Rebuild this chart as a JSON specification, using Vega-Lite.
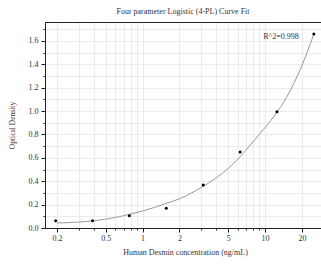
{
  "$schema": "https://vega.github.io/schema/vega-lite/v6.json",
  "autosize": "none",
  "width": 276,
  "height": 206,
  "padding": {"left": 45, "top": 22, "right": 0, "bottom": 38},
  "background": "white",
  "config": {
    "font": "Liberation Serif",
    "view": {"stroke": null},
    "axis": {"labelFont": "Liberation Serif", "titleFont": "Liberation Serif", "labelColor": "#333333", "titleColor": "#333333", "titleFontWeight": "normal", "tickColor": "#222222", "domainColor": "#222222", "gridColor": "#ebebeb", "gridWidth": 1}
  },
  "title": {"text": "Four parameter Logistic (4-PL) Curve Fit", "fontSize": 8, "font": "Liberation Serif", "fontWeight": "normal", "color": "#333333", "offset": 6},
  "datasets": {
    "curve": [
      {"conc": 0.2, "od": 0.043}, {"conc": 0.3, "od": 0.05}, {"conc": 0.4, "od": 0.062},
      {"conc": 0.6, "od": 0.09}, {"conc": 0.8, "od": 0.12}, {"conc": 1.0, "od": 0.145},
      {"conc": 1.5, "od": 0.205}, {"conc": 2, "od": 0.25}, {"conc": 3, "od": 0.345},
      {"conc": 4, "od": 0.43}, {"conc": 5, "od": 0.51}, {"conc": 6, "od": 0.59},
      {"conc": 8, "od": 0.74}, {"conc": 10, "od": 0.86}, {"conc": 12.5, "od": 0.99},
      {"conc": 15, "od": 1.12}, {"conc": 20, "od": 1.39}, {"conc": 25, "od": 1.66}
    ],
    "points": [
      {"conc": 0.195, "od": 0.062}, {"conc": 0.39, "od": 0.062}, {"conc": 0.78, "od": 0.105},
      {"conc": 1.56, "od": 0.168}, {"conc": 3.125, "od": 0.368}, {"conc": 6.25, "od": 0.65},
      {"conc": 12.5, "od": 0.995}, {"conc": 25, "od": 1.66}
    ],
    "label": [{"conc": 13.5, "od": 1.634, "text": "R^2=0.998"}]
  },
  "layer": [
    {
      "data": {"name": "curve"},
      "mark": {"type": "line", "color": "#9a9a9a", "strokeWidth": 1, "interpolate": "monotone"},
      "encoding": {
        "x": {"field": "conc", "type": "quantitative", "scale": {"type": "log", "domain": [0.1596, 28.6], "nice": false},
          "axis": {"orient": "bottom", "values": [0.2,0.3,0.4,0.5,0.6,0.7,0.8,0.9,1,2,3,4,5,6,7,8,9,10,20], "grid": true, "labels": false, "domain": false, "ticks": true, "tickSize": 2, "title": null}},
        "y": {"field": "od", "type": "quantitative", "scale": {"domain": [0, 1.762], "nice": false, "zero": false},
          "axis": {"orient": "left", "values": [0,0.1,0.2,0.3,0.4,0.5,0.6,0.7,0.8,0.9,1.0,1.1,1.2,1.3,1.4,1.5,1.6,1.7], "grid": true, "labels": false, "domain": false, "ticks": true, "tickSize": 2, "title": null}}
      }
    },
    {
      "data": {"name": "points"},
      "mark": {"type": "point", "filled": true, "color": "#000000", "size": 9, "opacity": 1},
      "encoding": {
        "x": {"field": "conc", "type": "quantitative",
          "axis": {"orient": "bottom", "values": [0.2,0.5,1,2,5,10,20], "format": "~g", "grid": false, "tickSize": 4, "labelFontSize": 8, "labelPadding": 2, "domainWidth": 1,
            "title": "Human Desmin concentration (ng/mL)", "titleFontSize": 8, "titleX": 140, "titleY": 24, "titleBaseline": "middle", "titleAlign": "center"}},
        "y": {"field": "od", "type": "quantitative",
          "axis": {"orient": "left", "values": [0,0.2,0.4,0.6,0.8,1.0,1.2,1.4,1.6], "format": ".1f", "grid": false, "tickSize": 4, "labelFontSize": 8, "labelPadding": 3, "domainWidth": 1,
            "title": "Optical Density", "titleFontSize": 7.5, "titleAngle": 270, "titleX": -33, "titleY": 103, "titleBaseline": "middle", "titleAlign": "center"}}
      }
    },
    {
      "data": {"name": "label"},
      "mark": {"type": "text", "fontSize": 8, "color": "#333333", "align": "center", "baseline": "middle", "font": "Liberation Serif"},
      "encoding": {
        "x": {"field": "conc", "type": "quantitative",
          "axis": {"orient": "top", "labels": false, "ticks": false, "grid": false, "domain": true, "domainWidth": 1, "title": null}},
        "y": {"field": "od", "type": "quantitative", "axis": null},
        "text": {"field": "text"}
      }
    }
  ],
  "resolve": {"axis": {"x": "independent", "y": "independent"}}
}
